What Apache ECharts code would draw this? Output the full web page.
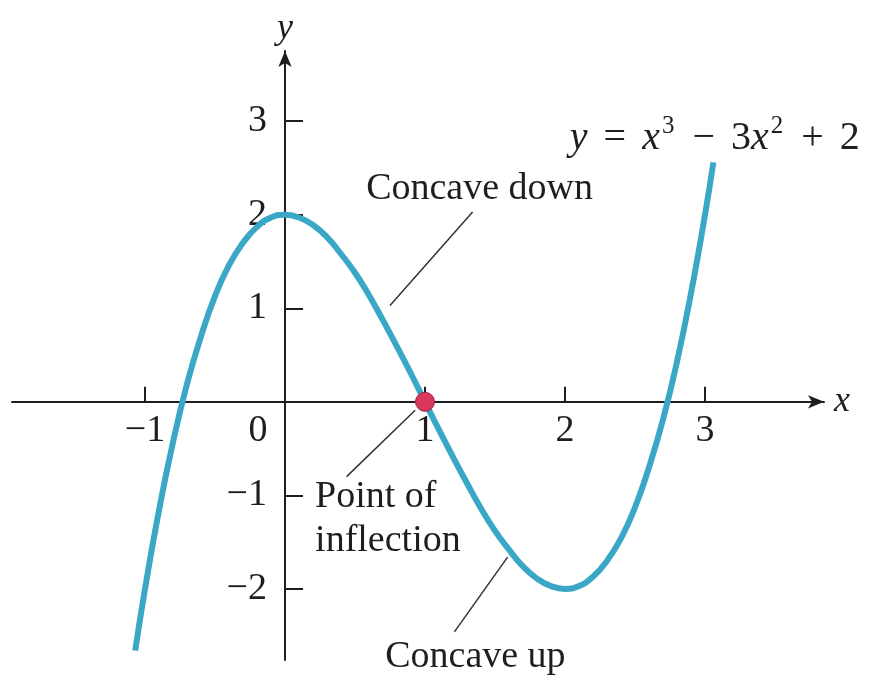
<!DOCTYPE html>
<html lang="en">
<head>
    <meta charset="UTF-8">
    <title>y = x^3 - 3x^2 + 2</title>
    <script src="https://cdn.jsdelivr.net/npm/echarts@6/dist/echarts.min.js"></script>
    <style>
        html, body { margin: 0; padding: 0; background: #fff; }
    </style>
</head>
<body>
    <div id="main" style="width: 870px;height:679px;"></div>
    <script type="text/javascript">
        // points
        var curveX = [-1.07, -1, -0.9, -0.8, -0.7, -0.6, -0.5, -0.4, -0.3, -0.2, -0.1, 0,
            0.1, 0.2, 0.3, 0.4, 0.5, 0.6, 0.7, 0.8, 0.9, 1, 1.1, 1.2, 1.3, 1.4, 1.5, 1.6, 1.7, 1.8, 1.9, 2,
            2.1, 2.2, 2.3, 2.4, 2.5, 2.6, 2.7, 2.8, 2.9, 3, 3.06];
        var curveY = [-2.66, -2, -1.16, -0.43, 0.19, 0.70, 1.13, 1.46, 1.70, 1.87, 1.97, 2,
            1.97, 1.89, 1.76, 1.58, 1.38, 1.14, 0.87, 0.59, 0.30, 0, -0.30, -0.59, -0.87, -1.14, -1.38, -1.58, -1.76, -1.89, -1.97, -2,
            -1.97, -1.87, -1.70, -1.46, -1.13, -0.70, -0.19, 0.43, 1.16, 2, 2.56];
        var inflection = [1, 0];

        var xTicks = [-1, 1, 2, 3];
        var xLabels = [-1, 0, 1, 2, 3];
        var yTicks = [-2, -1, 1, 2, 3];

        // annotation texts and where they sit (data units)
        var noteText = ['Concave down', 'Point of', 'inflection', 'Concave up'];
        var noteX = [1.39, 0.215, 0.215, 1.36];
        var noteY = [2.28, -1.02, -1.49, -2.73];
        var noteAlign = ['center', 'left', 'left', 'center'];
        var eqPos = [3.07, 2.82];

        // leader lines [from, to]
        var leaders = [
            [[1.34, 2.03], [0.75, 1.03]],
            [[0.93, -0.09], [0.44, -0.80]],
            [[1.59, -1.66], [1.21, -2.46]]
        ];

        var font = 'Liberation Serif, Times New Roman, serif';
        var ink = '#1e1e1e';

        function minus(v) {
            return v < 0 ? '\u2212' + Math.abs(v) : String(v);
        }

        var myChart = echarts.init(document.getElementById('main'));

        var curveData = curveX.map(function (x, i) { return [x, curveY[i]]; });
        var noteData = noteText.map(function (t, i) {
            return {
                value: [noteX[i], noteY[i]],
                label: {
                    show: true,
                    formatter: t,
                    color: ink,
                    position: noteAlign[i] === 'left' ? 'right' : 'inside',
                    distance: 0
                }
            };
        });
        noteData.push({
            value: eqPos,
            label: {
                show: true,
                position: 'inside',
                color: ink,
                formatter: '{i|y}{op|=}{i|x}{sup|3}{op|\u2212}{n|3}{i|x}{sup|2}{op|+}{n|2}',
                rich: {
                    i: { fontStyle: 'italic', fontFamily: font, fontSize: 40, color: ink, lineHeight: 48 },
                    n: { fontFamily: font, fontSize: 40, color: ink, lineHeight: 48 },
                    op: { fontFamily: font, fontSize: 40, color: ink, lineHeight: 48, padding: [0, 16, 0, 16] },
                    sup: { fontFamily: font, fontSize: 25, color: ink, lineHeight: 24, verticalAlign: 'top', padding: [0, 2, 0, 2] }
                }
            }
        });

        var option = {
            animation: false,
            grid: {
                left: 12, right: 46, top: 51, bottom: 19,
                outerBoundsMode: 'none'
            },
            xAxis: {
                type: 'value',
                min: -1.95, max: 3.85,
                position: 'bottom',
                offset: -258.2,
                name: 'x',
                nameGap: 10,
                nameTextStyle: { fontFamily: font, fontStyle: 'italic', fontSize: 36, color: ink },
                splitLine: { show: false },
                axisLine: {
                    onZero: false,
                    symbol: ['none', 'arrow'],
                    symbolSize: [10, 16],
                    lineStyle: { color: ink, width: 2 }
                },
                axisTick: {
                    inside: true, length: 15,
                    customValues: xTicks,
                    lineStyle: { color: ink, width: 2 }
                },
                axisLabel: {
                    customValues: xLabels,
                    margin: 10,
                    fontFamily: font, fontSize: 38, color: ink,
                    formatter: function (v) {
                        return v === 0 ? '{z|0}' : minus(v);
                    },
                    rich: {
                        z: { fontFamily: font, fontSize: 38, color: ink, padding: [0, 54, 0, 0] }
                    }
                }
            },
            yAxis: {
                type: 'value',
                min: -2.76, max: 3.75,
                position: 'left',
                offset: -273,
                name: 'y',
                nameGap: 4,
                nameTextStyle: { fontFamily: font, fontStyle: 'italic', fontSize: 36, color: ink },
                splitLine: { show: false },
                axisLine: {
                    onZero: false,
                    symbol: ['none', 'arrow'],
                    symbolSize: [10, 16],
                    lineStyle: { color: ink, width: 2 }
                },
                axisTick: {
                    inside: true, length: 18,
                    customValues: yTicks,
                    lineStyle: { color: ink, width: 2 }
                },
                axisLabel: {
                    customValues: yTicks,
                    margin: 18,
                    fontFamily: font, fontSize: 38, color: ink,
                    formatter: minus
                }
            },
            series: [{
                type: 'line',
                data: curveData,
                smooth: true,
                showSymbol: false,
                lineStyle: { color: '#3ba7c7', width: 6 },
                markLine: {
                    silent: true,
                    symbol: ['none', 'none'],
                    label: { show: false },
                    lineStyle: { color: '#333', width: 1.5, type: 'solid' },
                    data: leaders.map(function (l) {
                        return [{ coord: l[0] }, { coord: l[1] }];
                    })
                },
                z: 3
            }, {
                type: 'scatter',
                data: [inflection],
                symbolSize: 19,
                itemStyle: { color: '#d9385d', borderColor: '#a81f40', borderWidth: 1, opacity: 1 },
                z: 5
            }, {
                type: 'scatter',
                clip: false,
                symbolSize: 0,
                data: noteData,
                itemStyle: { opacity: 1 },
                label: { fontFamily: font, fontSize: 38, color: ink },
                z: 6
            }]
        };

        myChart.setOption(option);
    </script>
</body>
</html>
